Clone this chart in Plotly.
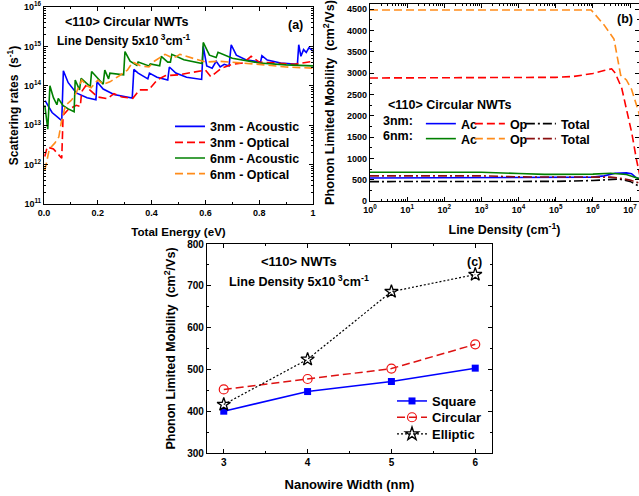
import plotly.graph_objects as go

W, H = 639, 496
FONT = "Liberation Sans, Arial, sans-serif"

# ---------------- Panel (a): scattering rates vs total energy ----------------
a_x_3ac = [0.004, 0.03, 0.066, 0.072, 0.09, 0.12, 0.16, 0.193, 0.197, 0.22, 0.26, 0.30, 0.328, 0.334,
           0.35, 0.386, 0.392, 0.42, 0.46, 0.466, 0.49, 0.53, 0.586, 0.592, 0.605, 0.625, 0.64, 0.655,
           0.67, 0.688, 0.696, 0.715, 0.75, 0.805, 0.81, 0.83, 0.88, 0.942, 0.947, 0.955, 0.965, 0.975,
           0.985, 1.0]
a_y_3ac = [4.2e13, 2.1e13, 1.3e13, 2.4e14, 1.2e14, 6.6e13, 5.0e13, 4.4e13, 1.26e14, 8.3e13, 6.0e13, 5.2e13,
           4.9e13, 2.6e14, 2.1e14, 1.5e14, 2.1e14, 1.65e14, 1.4e14, 3.0e14, 2.1e14, 1.65e14, 1.45e14, 1.0e15,
           3.2e14, 2.8e14, 4.2e14, 3.0e14, 3.5e14, 3.2e14, 1.1e15, 6.0e14, 4.6e14, 4.0e14, 5.8e14, 4.5e14,
           3.8e14, 3.5e14, 1.1e15, 5.6e14, 8.3e14, 7.0e14, 9.3e14, 7.6e14]

a_x_3op = [0.003, 0.012, 0.035, 0.066, 0.071, 0.09, 0.12, 0.135, 0.14, 0.155, 0.17, 0.2, 0.235, 0.26, 0.29,
           0.33, 0.355, 0.39, 0.42, 0.45, 0.5, 0.57, 0.6, 0.62, 0.66, 0.7, 0.74, 0.77, 0.8, 0.86, 0.93, 1.0]
a_y_3op = [1.6e12, 2.8e12, 2.5e12, 1.45e12, 1.8e13, 2.5e13, 3.2e13, 3.0e13, 7.1e13, 1.0e14, 7.9e13, 5.2e13,
           4.7e13, 6.3e13, 5.2e13, 4.8e13, 7.9e13, 7.9e13, 1.4e14, 1.8e14, 1.9e14, 2.3e14, 2.5e14, 1.7e14,
           2.8e14, 3.5e14, 3.8e14, 5.6e14, 4.0e14, 3.8e14, 3.5e14, 4.2e14]

a_x_6ac = [0.003, 0.014, 0.022, 0.035, 0.048, 0.053, 0.07, 0.09, 0.112, 0.116, 0.132, 0.138, 0.172, 0.177,
           0.22, 0.226, 0.24, 0.245, 0.296, 0.301, 0.32, 0.345, 0.35, 0.39, 0.395, 0.43, 0.436, 0.46, 0.47,
           0.475, 0.52, 0.588, 0.592, 0.615, 0.64, 0.647, 0.70, 0.8, 0.9, 1.0]
a_y_6ac = [3.2e13, 7.9e12, 1.0e14, 5.0e13, 3.3e13, 4.8e13, 3.2e13, 2.6e13, 2.2e13, 1.4e14, 7.9e13, 1.55e14,
           9.5e13, 2.3e14, 1.1e14, 2.5e14, 1.5e14, 2.1e14, 1.9e14, 7.4e14, 4.2e14, 3.3e14, 4.0e14, 3.2e14,
           3.6e14, 3.2e14, 5.6e14, 4.0e14, 4.0e14, 6.3e14, 4.6e14, 3.7e14, 1.26e15, 6.0e14, 5.2e14, 7.1e14,
           5.0e14, 3.8e14, 3.4e14, 3.2e14]

a_x_6op = [0.003, 0.01, 0.02, 0.04, 0.055, 0.065, 0.08, 0.1, 0.115, 0.14, 0.16, 0.175, 0.2, 0.22, 0.245,
           0.28, 0.31, 0.33, 0.36, 0.39, 0.41, 0.45, 0.48, 0.505, 0.55, 0.6, 0.65, 0.7, 0.8, 0.9, 1.0]
a_y_6op = [7.1e11, 1.26e12, 2.5e12, 3.5e12, 5.0e12, 1.26e13, 3.2e13, 4.2e13, 5.6e13, 1.4e14, 1.0e14, 8.9e13,
           1.4e14, 1.1e14, 1.26e14, 1.8e14, 2.5e14, 4.0e14, 3.2e14, 3.0e14, 4.2e14, 6.3e14, 5.0e14, 6.3e14,
           5.0e14, 4.0e14, 4.2e14, 4.0e14, 3.5e14, 3.0e14, 2.8e14]

a_xtick_vals = [0.0, 0.2, 0.4, 0.6, 0.8, 1.0]
a_xtick_text = ["0.0", "0.2", "0.4", "0.6", "0.8", "1"]
a_ytick_vals = [1e11, 1e12, 1e13, 1e14, 1e15, 1e16]
a_ytick_text = ["10<sup>11</sup>", "10<sup>12</sup>", "10<sup>13</sup>", "10<sup>14</sup>",
                "10<sup>15</sup>", "10<sup>16</sup>"]

# ---------------- Panel (b): mobility vs line density ----------------
b_x_3ac = [1, 1e5, 1e6, 2e6, 4e6, 8e6, 1.1e7, 1.4e7, 1.8e7]
b_y_3ac = [540, 545, 560, 590, 650, 660, 640, 560, 520]
b_x_3op = [1, 1e4, 1e5, 3e5, 1e6, 2e6, 3.2e6, 4e6, 6e6, 8.1e6, 1.12e7, 1.5e7, 1.74e7, 2e7]
b_y_3op = [2885, 2890, 2900, 2920, 2990, 3060, 3100, 3000, 2645, 2136, 1589, 962, 649, 450]
b_x_3tot = [1, 1e5, 1e6, 3e6, 5e6, 1e7, 1.5e7, 1.8e7]
b_y_3tot = [455, 460, 480, 510, 515, 460, 390, 340]
b_x_6ac = [1, 1e3, 1e4, 5e4, 1e6, 3e6, 8e6, 1.2e7, 1.7e7, 2e7]
b_y_6ac = [675, 675, 645, 625, 630, 650, 620, 580, 530, 510]
b_x_6op = [1, 1e5, 9e5, 2e6, 3.7e6, 5.6e6, 8e6, 1.1e7, 1.4e7, 1.75e7, 2.2e7]
b_y_6op = [4480, 4480, 4480, 4130, 3800, 2950, 2840, 2620, 2350, 2058, 1500]
b_x_6tot = [1, 1e3, 1e4, 1e5, 1e6, 3e6, 5e6, 1e7, 1.8e7]
b_y_6tot = [590, 590, 565, 560, 565, 560, 540, 490, 420]

b_xtick_vals = [1, 10, 100, 1e3, 1e4, 1e5, 1e6, 1e7]
b_xtick_text = ["10<sup>0</sup>", "10<sup>1</sup>", "10<sup>2</sup>", "10<sup>3</sup>",
                "10<sup>4</sup>", "10<sup>5</sup>", "10<sup>6</sup>", "10<sup>7</sup>"]
b_ytick_vals = [0, 500, 1000, 1500, 2000, 2500, 3000, 3500, 4000, 4500]

# ---------------- Panel (c): mobility vs nanowire width ----------------
c_width = [3, 4, 5, 6]
c_square = [400, 447, 471, 503]
c_circular = [452, 477, 502, 560]
c_elliptic = [416, 524, 686, 727]
c_ytick_vals = [300, 400, 500, 600, 700, 800]

BLUE = "#0000FF"
RED = "#FF0000"
GREEN = "#008000"
ORANGE = "#FF8C1A"
BLACK = "#000000"
DARKRED = "#8B1010"
DASH = "8px,4px"
DASHDOT = "9px,3px,2px,3px"


def log_minor(decades):
    vals = []
    for d in decades:
        for m in range(2, 10):
            vals.append(m * 10 ** d)
    return vals


def px_x(p):
    return p / W


def px_y(p):
    return 1 - p / H


fig = go.Figure()

# Panel (a)  (each legend row is its own legend box so rows sit where the reference has them)
fig.add_trace(go.Scatter(x=a_x_3ac, y=a_y_3ac, mode="lines", name="3nm - Acoustic",
                         line=dict(color=BLUE, width=1.6), xaxis="x", yaxis="y", legend="legend"))
fig.add_trace(go.Scatter(x=a_x_3op, y=a_y_3op, mode="lines", name="3nm - Optical",
                         line=dict(color=RED, width=1.6, dash=DASH), xaxis="x", yaxis="y", legend="legend5"))
fig.add_trace(go.Scatter(x=a_x_6ac, y=a_y_6ac, mode="lines", name="6nm - Acoustic",
                         line=dict(color=GREEN, width=1.6), xaxis="x", yaxis="y", legend="legend6"))
fig.add_trace(go.Scatter(x=a_x_6op, y=a_y_6op, mode="lines", name="6nm - Optical",
                         line=dict(color=ORANGE, width=1.6, dash=DASH), xaxis="x", yaxis="y", legend="legend7"))

# Panel (b)
fig.add_trace(go.Scatter(x=b_x_3ac, y=b_y_3ac, mode="lines", name="Ac", legendwidth=4,
                         line=dict(color=BLUE, width=1.6), xaxis="x2", yaxis="y2", legend="legend2"))
fig.add_trace(go.Scatter(x=b_x_3op, y=b_y_3op, mode="lines", name="Op", legendwidth=6,
                         line=dict(color=RED, width=1.6, dash=DASH), xaxis="x2", yaxis="y2", legend="legend2"))
fig.add_trace(go.Scatter(x=b_x_3tot, y=b_y_3tot, mode="lines", name="Total", legendwidth=34,
                         line=dict(color=BLACK, width=1.6, dash=DASHDOT), xaxis="x2", yaxis="y2", legend="legend2"))
fig.add_trace(go.Scatter(x=b_x_6ac, y=b_y_6ac, mode="lines", name="Ac", legendwidth=4,
                         line=dict(color=GREEN, width=1.6), xaxis="x2", yaxis="y2", legend="legend3"))
fig.add_trace(go.Scatter(x=b_x_6op, y=b_y_6op, mode="lines", name="Op", legendwidth=6,
                         line=dict(color=ORANGE, width=1.6, dash=DASH), xaxis="x2", yaxis="y2", legend="legend3"))
fig.add_trace(go.Scatter(x=b_x_6tot, y=b_y_6tot, mode="lines", name="Total", legendwidth=34,
                         line=dict(color=DARKRED, width=1.6, dash=DASHDOT), xaxis="x2", yaxis="y2", legend="legend3"))

# Panel (c)
fig.add_trace(go.Scatter(x=c_width, y=c_square, mode="lines+markers", name="Square",
                         line=dict(color=BLUE, width=1.5),
                         marker=dict(symbol="square", size=7, color=BLUE),
                         xaxis="x3", yaxis="y3", legend="legend4"))
fig.add_trace(go.Scatter(x=c_width, y=c_circular, mode="lines+markers", name="Circular",
                         line=dict(color="#DD1111", width=1.5, dash=DASH),
                         marker=dict(symbol="circle-open", size=9, color="#EE1111", line=dict(width=1.2)),
                         xaxis="x3", yaxis="y3", legend="legend8"))
fig.add_trace(go.Scatter(x=c_width, y=c_elliptic, mode="lines+markers", name="Elliptic",
                         line=dict(color=BLACK, width=1.2, dash="2px,2px"),
                         marker=dict(symbol="star-open", size=10, color=BLACK, line=dict(width=1.3)),
                         xaxis="x3", yaxis="y3", legend="legend9"))

axis_common = dict(showline=True, linecolor="black", linewidth=1.2, mirror="ticks",
                   ticks="inside", ticklen=4, tickwidth=1, tickcolor="black",
                   showgrid=False, zeroline=False)


def row_legend(x, y, size):
    return dict(x=px_x(x), y=px_y(y), xanchor="left", yanchor="middle",
                bgcolor="rgba(0,0,0,0)", font=dict(size=size), borderwidth=0)


fig.update_layout(
    width=W, height=H,
    margin=dict(l=0, r=0, t=0, b=0, autoexpand=False),
    paper_bgcolor="white", plot_bgcolor="white",
    font=dict(family=FONT, size=10, color="black", weight="bold"),
    xaxis=dict(domain=[px_x(44), px_x(313)], range=[0, 1], anchor="y",
               tickvals=a_xtick_vals, ticktext=a_xtick_text, tickfont=dict(size=9),
               minor=dict(ticks="inside", ticklen=2, dtick=0.1, tick0=0, tickcolor="black"),
               title=dict(text="Total Energy (eV)", font=dict(size=11.6), standoff=10),
               **axis_common),
    yaxis=dict(domain=[px_y(204), px_y(7)], type="log", range=[11, 16], anchor="x",
               tickvals=a_ytick_vals, ticktext=a_ytick_text, tickfont=dict(size=9),
               minor=dict(ticks="inside", ticklen=2, tickmode="array",
                          tickvals=log_minor(range(11, 16)), tickcolor="black"),
               title=dict(text="Scattering rates  (s<sup>-1</sup>)", font=dict(size=12), standoff=2),
               **axis_common),
    xaxis2=dict(domain=[px_x(370), 1.0], type="log", range=[0, 7.242], anchor="y2",
                tickvals=b_xtick_vals, ticktext=b_xtick_text, tickfont=dict(size=9),
                minor=dict(ticks="inside", ticklen=2, tickmode="array",
                           tickvals=log_minor(range(0, 8)), tickcolor="black"),
                title=dict(text="Line Density (cm<sup>-1</sup>)", font=dict(size=12.5), standoff=11),
                **axis_common),
    yaxis2=dict(domain=[px_y(201), px_y(4)], range=[0, 4620], anchor="x2",
                tickvals=b_ytick_vals, tickfont=dict(size=9),
                minor=dict(ticks="inside", ticklen=2, dtick=250, tick0=0, tickcolor="black"),
                title=dict(text="Phonon Limited Mobility  (cm<sup>2</sup>/Vs)", font=dict(size=12.7), standoff=9),
                **axis_common),
    xaxis3=dict(domain=[px_x(207), px_x(492)], range=[2.8, 6.2], anchor="y3",
                tickvals=c_width, tickfont=dict(size=10),
                minor=dict(ticks="inside", ticklen=2, dtick=0.5, tick0=3, tickcolor="black"),
                title=dict(text="Nanowire Width (nm)", font=dict(size=13), standoff=12),
                **axis_common),
    yaxis3=dict(domain=[px_y(453), px_y(244)], range=[300, 800], anchor="x3",
                tickvals=c_ytick_vals, tickfont=dict(size=10),
                minor=dict(ticks="inside", ticklen=2, dtick=50, tick0=300, tickcolor="black"),
                title=dict(text="Phonon Limited Mobility  (cm<sup>2</sup>/Vs)", font=dict(size=12.5), standoff=8),
                **axis_common),
    legend=row_legend(170, 126.7, 12.5),
    legend5=row_legend(170, 142.7, 12.5),
    legend6=row_legend(170, 158.3, 12.5),
    legend7=row_legend(170, 174, 12.5),
    legend2=dict(orientation="h", x=px_x(381), y=px_y(124), xanchor="left", yanchor="middle",
                 bgcolor="rgba(0,0,0,0)", font=dict(size=12.5), entrywidthmode="pixels",
                 title=dict(text="3nm:", side="left", font=dict(size=12.5))),
    legend3=dict(orientation="h", x=px_x(381), y=px_y(139), xanchor="left", yanchor="middle",
                 bgcolor="rgba(0,0,0,0)", font=dict(size=12.5), entrywidthmode="pixels",
                 title=dict(text="6nm:", side="left", font=dict(size=12.5))),
    legend4=row_legend(392, 401, 13),
    legend8=row_legend(392, 417.3, 13),
    legend9=row_legend(392, 434, 13),
    showlegend=True,
)

annos = [
    dict(text="&lt;110&gt; Circular NWTs", x=63, y=22, xanchor="left", size=12.5),
    dict(text="Line Density 5x10<sup> 3</sup>cm<sup>-1</sup>", x=55, y=40, xanchor="left", size=12),
    dict(text="(a)", x=295, y=25, xanchor="center", size=12.5),
    dict(text="(b)", x=625, y=19, xanchor="center", size=12.5),
    dict(text="&lt;110&gt; Circular NWTs", x=386, y=105, xanchor="left", size=12.5),
    dict(text="&lt;110&gt; NWTs", x=299, y=261, xanchor="center", size=13),
    dict(text="Line Density 5x10<sup> 3</sup>cm<sup>-1</sup>", x=227, y=281, xanchor="left", size=12.6),
    dict(text="(c)", x=474, y=262, xanchor="center", size=12.5),
]
fig.update_layout(annotations=[
    dict(text=a["text"], x=px_x(a["x"]), y=px_y(a["y"]), xref="paper", yref="paper",
         xanchor=a["xanchor"], yanchor="middle", showarrow=False, font=dict(size=a["size"]))
    for a in annos
])

fig.write_html("out.html", config={"displayModeBar": False},
               post_script="document.body.style.margin='0px';")
